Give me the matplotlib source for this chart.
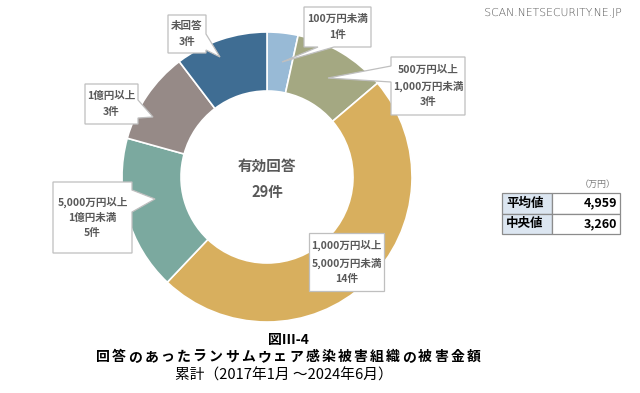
import matplotlib
matplotlib.use('Agg')
import matplotlib.pyplot as plt
from matplotlib.patches import Polygon, Rectangle
import matplotlib.patheffects as pe

plt.rcParams['font.family'] = ['Noto Sans CJK JP', 'DejaVu Sans']

# data (clockwise from top)
categories = ['100万円未満', '500万円以上\n1,000万円未満', '1,000万円以上\n5,000万円未満',
              '5,000万円以上\n1億円未満', '1億円以上', '未回答']
counts = [1, 3, 14, 5, 3, 3]
colors = ['#98BAD6', '#A4A882', '#D8AF5E', '#7BA99F', '#968A87', '#3F6D93']

stats_labels = ['平均値', '中央値']
stats_values = [4959, 3260]
stats_unit = '（万円）'

title1 = '図Ⅲ-4'
title2 = '回答のあったランサムウェア感染被害組織の被害金額'
title3 = '累計（2017年1月 ～2024年6月）'

W, H = 640, 393
TXT = '#595959'
EDGE = '#BFBFBF'

fig = plt.figure(figsize=(6.4, 3.93), dpi=100)
ax = fig.add_axes([0, 0, 1, 1])

def Y(y):
    return H - y

cx, cy = 267, Y(177)
ax.pie(counts, colors=colors, startangle=90, counterclock=False,
       center=(cx, cy), radius=145, frame=True,
       wedgeprops=dict(width=59, edgecolor='white', linewidth=1.2))
ax.set_xlim(0, W)
ax.set_ylim(0, H)
ax.set_aspect('equal')
ax.axis('off')

ax.text(cx, Y(166), '有効回答', ha='center', va='center', fontsize=10.5,
        fontweight='bold', color=TXT)
ax.text(cx, Y(192), f'{sum(counts)}件', ha='center', va='center', fontsize=10.5,
        fontweight='bold', color=TXT)


def callout(box, tip=None, side=None, base=None):
    x0, y0, x1, y1 = box
    pts = [(x0, y0), (x1, y0), (x1, y1), (x0, y1)]
    if tip is not None:
        b0, b1 = base
        if side == 'right':
            pts = [(x0, y0), (x1, y0), (x1, b0), tip, (x1, b1), (x1, y1), (x0, y1)]
        elif side == 'left':
            pts = [(x0, y0), (x1, y0), (x1, y1), (x0, y1), (x0, b1), tip, (x0, b0)]
        elif side == 'bottom':
            pts = [(x0, y0), (x1, y0), (x1, y1), (b1, y1), tip, (b0, y1), (x0, y1)]
    pts = [(px, Y(py)) for px, py in pts]
    ax.add_patch(Polygon(pts, closed=True, facecolor='white', edgecolor=EDGE,
                         linewidth=0.9, zorder=5))


# label boxes: (box, tip, side, base)
layout = [
    ((304, 7, 371, 47), (282, 62), 'bottom', (318, 334)),
    ((391, 57, 465, 115), (328, 78), 'left', (66, 82)),
    ((309, 233, 384, 291), None, None, None),
    ((53, 182, 132, 253), (155, 199), 'right', (190, 212)),
    ((85, 84, 138, 124), (153, 117), 'right', (100, 118)),
    ((168, 15, 206, 53), (220, 57), 'right', (34, 50)),
]

for cat, n, (box, tip, side, base) in zip(categories, counts, layout):
    callout(box, tip, side, base)
    x0, y0, x1, y1 = box
    ax.text((x0 + x1) / 2, Y((y0 + y1) / 2), f'{cat}\n{n}件', ha='center',
            va='center', fontsize=7.6, fontweight='bold', color=TXT,
            linespacing=1.65, zorder=6)

# stats table
tx0, tx1, tmid = 502, 620, 552
ty0, ty1 = 193, 234
rh = (ty1 - ty0) / 2
for i, (lab, val) in enumerate(zip(stats_labels, stats_values)):
    top = ty0 + i * rh
    ax.add_patch(Rectangle((tx0, Y(top + rh)), tmid - tx0, rh,
                           facecolor='#DCE6F1', edgecolor='#8C8C8C', linewidth=0.9))
    ax.add_patch(Rectangle((tmid, Y(top + rh)), tx1 - tmid, rh,
                           facecolor='white', edgecolor='#8C8C8C', linewidth=0.9))
    ax.text(tx0 + 4, Y(top + rh / 2), lab, ha='left', va='center',
            fontsize=9, fontweight='bold', color='black')
    ax.text(tx1 - 3, Y(top + rh / 2), f'{val:,}', ha='right', va='center',
            fontsize=9, fontweight='bold', color='black')
ax.text(598, Y(184), stats_unit, ha='center', va='center', fontsize=6.5,
        color='#7F7F7F')

# titles
ax.text(288, Y(340), title1, ha='center', va='center', fontsize=10,
        fontweight='bold', color='black')
pitch = 16.1
start = 103
for i, ch in enumerate(title2):
    ax.text(start + i * pitch, Y(357), ch, ha='center', va='center',
            fontsize=10, fontweight='bold', color='black')
ax.text(284, Y(375), title3, ha='center', va='center', fontsize=10.6,
        color='black')

# watermark
ax.text(553, Y(13), 'SCAN.NETSECURITY.NE.JP', ha='center', va='center',
        fontsize=7.8, color='#555555', family='DejaVu Sans', fontweight='light',
        path_effects=[pe.withStroke(linewidth=1.5, foreground='white')])

fig.savefig('out.png', dpi=100)
